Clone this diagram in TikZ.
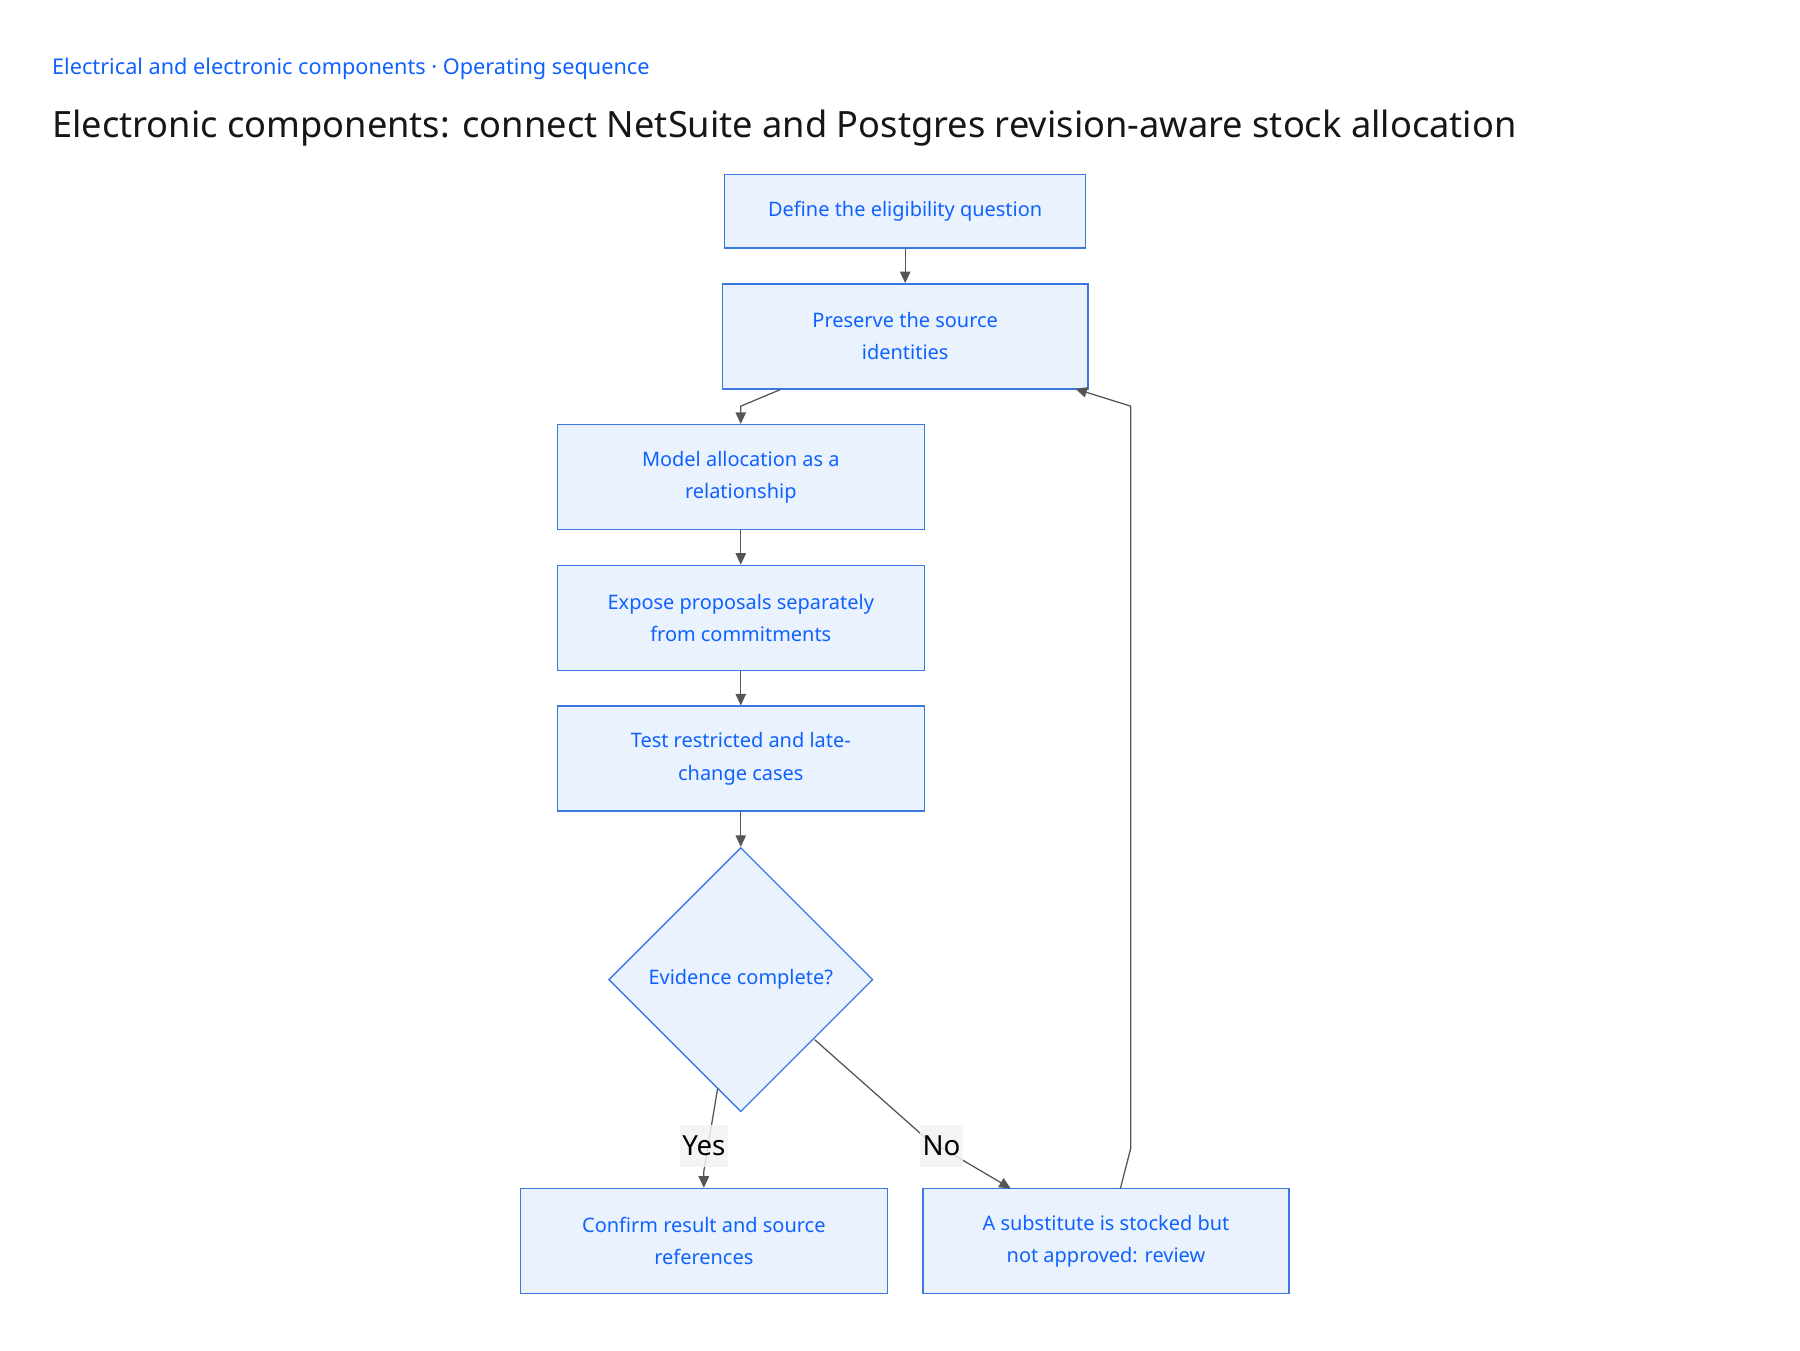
\documentclass[tikz,border=0pt]{standalone}
\usepackage{fontspec}
\setmainfont{Noto Sans}
\usetikzlibrary{shapes.geometric,arrows.meta,calc}
\definecolor{boxfill}{HTML}{EAF2FE}
\definecolor{boxline}{HTML}{3A78E0}
\definecolor{boxtext}{HTML}{0F62FE}
\definecolor{edgecol}{HTML}{555555}
\definecolor{lblbg}{HTML}{F2F2F2}
\definecolor{titlecol}{HTML}{161616}
\tikzset{
  stepbox/.style={draw=boxline, fill=boxfill, line width=1.2pt, text=boxtext,
    font=\fontsize{17.3}{28}\selectfont, align=center, inner sep=0pt},
  decision/.style={diamond, aspect=1, draw=boxline, fill=boxfill, line width=1.2pt,
    text=boxtext, font=\fontsize{17.3}{28}\selectfont, inner sep=0pt, minimum size=229pt},
  edge/.style={draw=edgecol, line width=1.1pt, -{Triangle[length=10pt,width=9pt]}},
  lbl/.style={fill=lblbg, fill opacity=0.85, text opacity=1, text=black,
    font=\fontsize{24}{26}\selectfont, inner xsep=2pt, inner ysep=0pt,
    minimum height=36pt}
}
\begin{document}
\begin{tikzpicture}[x=1pt,y=-1pt]
\useasboundingbox (0,0) rectangle (1560,1170);
\node[anchor=west, text=boxtext, font=\fontsize{18.8}{20}\selectfont, inner sep=0pt] (crumb) at (45,59.5) {Electrical and electronic components · Operating sequence};
\node[anchor=west, text=titlecol, font=\fontsize{31.4}{34}\selectfont, inner sep=0pt] (title) at (45,111) {Electronic components: connect NetSuite and Postgres revision-aware stock allocation};

\node[stepbox, minimum width=313pt, minimum height=64pt] (b1) at (784.5,183) {Define the eligibility question};
\node[stepbox, minimum width=317pt, minimum height=91pt] (b2) at (784.5,291.5) {Preserve the source\\identities};
\node[stepbox, minimum width=318pt, minimum height=91pt] (b3) at (642,413.5) {Model allocation as a\\relationship};
\node[stepbox, minimum width=318pt, minimum height=91pt] (b4) at (642,535.5) {Expose proposals separately\\from commitments};
\node[stepbox, minimum width=318pt, minimum height=91pt] (b5) at (642,657.5) {Test restricted and late-\\change cases};
\node[decision] (d) at (642,849) {Evidence complete?};
\node[stepbox, minimum width=318pt, minimum height=91pt] (b6) at (610,1075.5) {Confirm result and source\\references};
\node[stepbox, minimum width=317pt, minimum height=91pt] (b7) at (958.5,1075.5) {A substitute is stocked but\\not approved: review};

\coordinate (s23) at ($(b2.south west)+(51,0)$);
\coordinate (k23) at (642,352);
\coordinate (sy) at (622,943);
\coordinate (ky) at (610,1015);
\coordinate (sn) at (706,901);
\coordinate (kn) at (803,987);
\coordinate (tn) at (876,1030);
\coordinate (s72) at (971,1030);
\coordinate (k72a) at (980,995);
\coordinate (k72b) at (980,352);
\coordinate (t72) at (932,337);

\draw[edge] (b1) -- (b2);
\draw[edge] (s23) -- (k23) -- (b3.north);
\draw[edge] (b3) -- (b4);
\draw[edge] (b4) -- (b5);
\draw[edge] (b5) -- (d.north);
\draw[edge] (sy) -- (ky) -- (b6.north);
\draw[edge] (sn) -- (kn) -- (tn);
\draw[edge] (s72) -- (k72a) -- (k72b) -- (t72);

\node[lbl] (yes) at (610,993) {Yes};
\node[lbl] (no) at (816,993) {No};
\end{tikzpicture}
\end{document}
